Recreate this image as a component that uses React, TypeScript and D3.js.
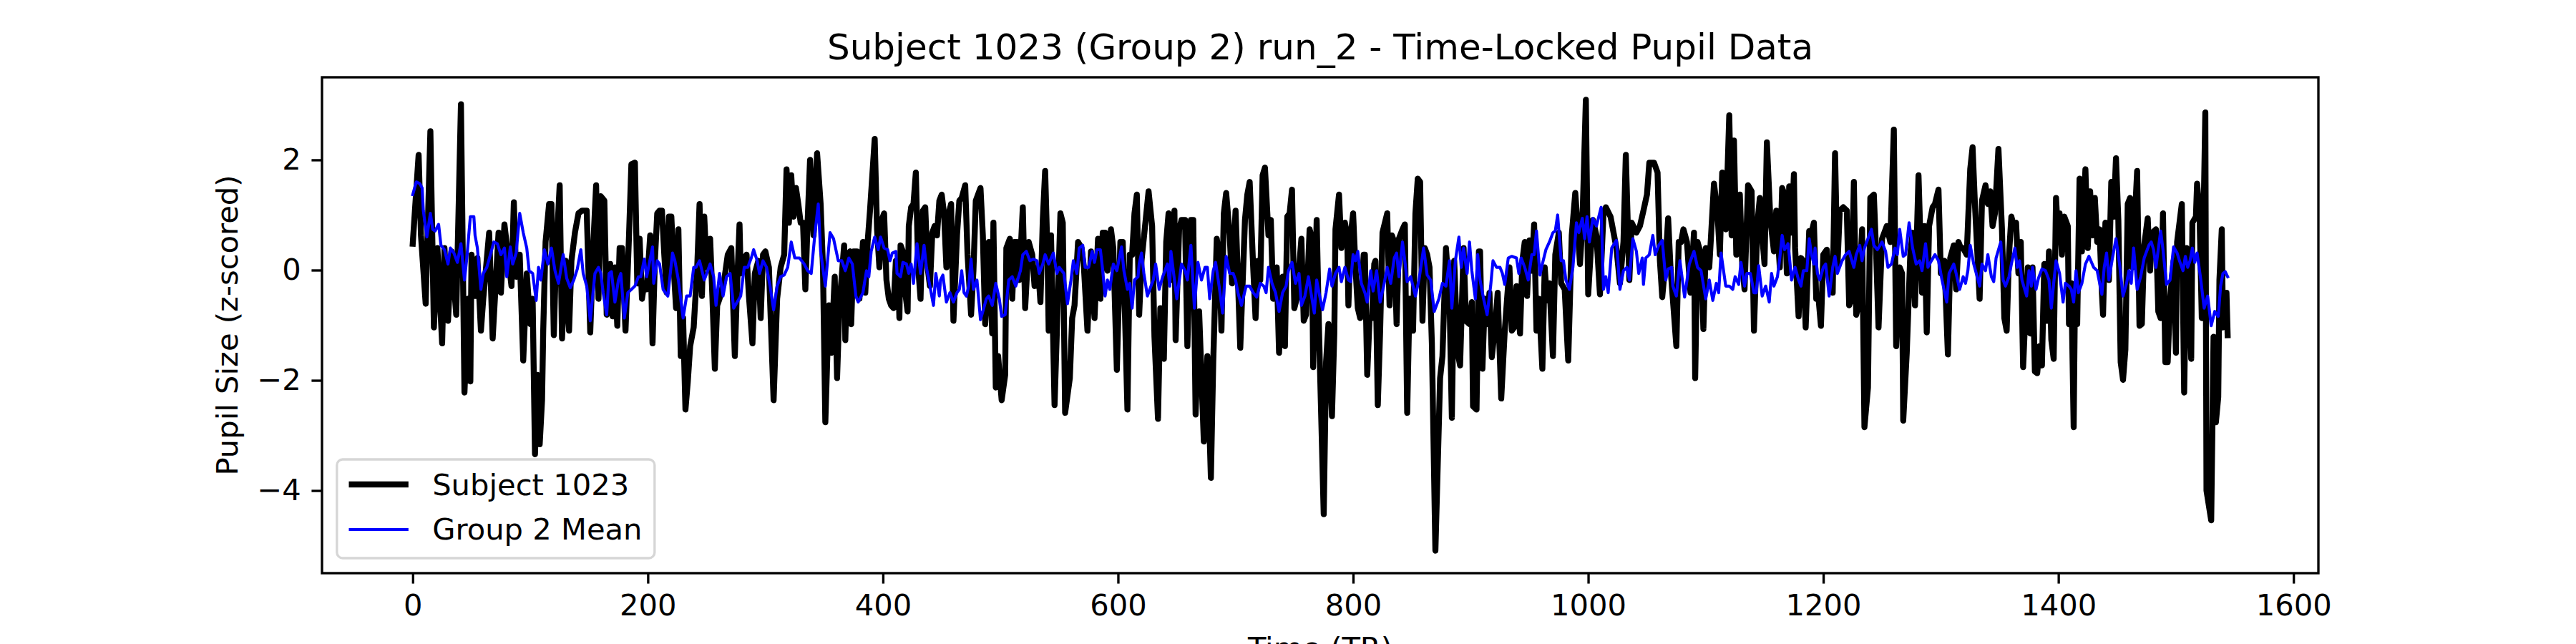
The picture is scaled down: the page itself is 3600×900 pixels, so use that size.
import { useEffect, useRef } from "react";
import * as d3 from "d3";

// [TR, z-score] pairs
const subjectPoints: [number, number][] = [
  [0, 0.48], [5, 2.09], [7, 0.63], [11, -0.61], [15, 2.52], [18, -1.04], [21, 0.4], [25, -1.33], [27, 0.4], [30, -0.92],
  [33, 0.34], [37, -0.81], [41, 3.01], [44, -2.22], [47, -0.52], [49, -2.02], [50, 0.28], [53, -0.47], [55, 0.22], [58, -1.1],
  [60, -0.52], [65, 0.68], [68, -1.24], [73, 0.68], [75, -0.41], [78, 0.83], [81, 0.28], [84, -0.29], [86, 1.23], [88, -0.12],
  [91, 0.28], [94, -1.64], [97, -0.06], [100, -0.98], [102, -0.52], [104, -3.34], [106, -1.9], [108, -3.16], [110, -2.36], [111, -1.1],
  [113, 0.51], [116, 1.2], [118, 1.2], [120, -1.18], [122, 0.28], [125, 1.54], [127, -1.24], [130, 0.17], [133, -1.1], [135, 0.17],
  [138, 0.68], [141, 1.03], [144, 1.08], [148, 1.08], [151, -1.13], [154, 0.63], [156, 1.54], [158, -0.52], [160, 1.34], [163, 1.26],
  [165, -0.81], [168, 0.11], [170, -0.84], [172, 0.05], [174, -1.01], [176, 0.4], [178, 0.4], [181, -1.1], [184, 0.63], [186, 1.92],
  [189, 1.95], [191, -0.24], [193, 0.57], [195, -0.52], [197, -0.24], [199, -0.35], [202, 0.63], [204, -1.33], [206, 0.17], [208, 1.03],
  [210, 1.08], [212, 1.08], [214, 0.28], [216, -0.41], [218, 0.97], [220, 0.97], [222, 0.05], [224, -0.69], [226, 0.74], [228, -1.56],
  [230, -0.87], [232, -2.53], [234, -2.02], [236, -1.38], [239, -1.04], [242, 0.05], [244, 1.2], [246, -0.47], [248, 0.97], [250, 0.05],
  [253, 0.57], [255, -0.52], [257, -1.79], [259, -0.64], [261, -0.52], [265, -0.18], [268, 0.28], [271, 0.4], [274, -1.56], [276, -0.24],
  [278, 0.83], [279, -0.06], [282, 0.22], [284, 0.28], [286, -0.47], [289, -1.33], [291, -0.06], [294, 0.17], [296, -0.87], [298, 0.28],
  [300, 0.34], [303, 0.05], [307, -2.36], [310, -0.52], [313, 0.05], [316, 0.28], [318, 1.83], [320, 0.86], [322, 1.72], [324, 0.97],
  [326, 1.49], [328, 1.2], [330, 0.86], [332, 0.86], [334, -0.35], [336, 0.91], [338, 2.0], [341, 0.63], [344, 2.12], [347, 1.2],
  [349, 0.05], [351, -2.76], [354, -0.64], [356, -1.5], [359, -0.12], [361, -1.96], [363, -0.64], [367, 0.45], [368, -1.27], [370, 0.28],
  [372, 0.34], [373, -0.98], [375, 0.34], [378, 0.34], [380, -0.52], [383, 0.51], [385, -0.41], [387, 0.51], [389, 1.08], [393, 2.38],
  [395, 0.74], [397, 0.05], [399, 0.91], [401, 1.03], [403, -0.18], [405, -0.52], [407, -0.64], [409, -0.69], [411, 0.17], [413, -0.06],
  [414, -0.87], [415, 0.45], [418, 0.28], [419, -0.41], [421, -0.75], [422, 0.8], [424, 1.14], [426, 1.2], [428, 1.77], [430, 0.05],
  [432, -0.52], [434, 1.08], [436, 1.14], [438, 0.05], [440, -0.29], [442, 0.68], [444, 0.8], [446, 0.63], [448, 1.26], [450, 1.37],
  [452, 1.03], [454, 0.05], [456, 1.03], [458, 1.2], [460, -0.92], [463, 0.63], [465, 1.26], [467, 1.31], [470, 1.54], [472, 0.28],
  [475, -0.81], [477, -0.01], [479, 1.26], [483, 1.49], [485, 0.63], [487, -0.98], [490, 0.51], [493, -1.15], [494, 0.86], [496, -2.13],
  [498, -1.56], [501, -2.36], [504, -1.9], [505, 0.4], [508, 0.57], [510, -0.52], [512, 0.51], [514, 0.51], [516, -0.18], [519, 1.14],
  [521, -0.69], [524, 0.51], [527, 0.28], [529, -0.29], [532, 0.05], [534, -0.58], [536, 0.91], [538, 1.8], [540, 0.28], [541, -1.1],
  [543, 0.63], [546, -2.45], [548, -1.1], [551, 1.03], [553, 0.86], [555, -2.59], [559, -1.96], [561, -0.87], [563, -0.64], [566, 0.51],
  [569, 0.4], [571, 0.05], [574, -1.1], [577, 0.34], [578, -0.18], [580, -0.87], [583, 0.57], [585, -0.52], [587, 0.68], [589, 0.68],
  [591, -0.01], [594, 0.74], [596, 0.4], [599, -1.81], [602, 0.51], [604, 0.51], [606, -0.87], [608, -2.53], [610, 0.28], [612, 0.28],
  [614, 1.03], [616, 1.37], [618, -0.81], [620, 0.17], [623, 0.8], [626, 1.43], [629, 0.8], [631, -1.21], [634, -2.7], [636, -0.69],
  [639, -1.61], [641, 0.51], [643, 1.03], [645, -0.18], [648, 1.08], [649, -1.27], [652, 0.74], [654, 0.91], [657, 0.91], [659, -1.38],
  [662, 0.91], [664, 0.91], [666, -2.62], [669, -0.75], [673, -3.11], [676, -1.56], [679, -3.77], [681, -1.67], [684, 0.57], [686, 0.28],
  [688, -1.1], [690, 1.03], [692, 1.4], [695, 0.63], [697, -0.24], [700, 1.08], [704, -1.41], [708, 0.91], [710, 1.37], [712, 1.6],
  [715, 0.05], [717, -0.87], [719, 0.17], [721, -0.18], [723, 1.72], [725, 1.86], [728, 0.63], [730, 0.91], [732, -0.52], [735, 0.05],
  [737, -1.5], [740, -0.12], [742, -1.38], [744, 0.97], [746, 1.03], [748, 1.46], [750, -0.69], [752, -0.52], [756, 0.57], [758, -0.92],
  [760, -0.81], [763, 0.74], [765, 0.57], [766, -1.76], [769, 0.91], [771, -1.1], [775, -4.43], [777, -1.67], [779, -0.98], [782, -2.65],
  [784, -1.15], [785, 0.74], [788, 1.37], [790, 0.4], [793, 0.86], [795, 0.63], [796, -0.64], [798, 0.63], [800, 1.03], [802, 0.05],
  [804, -0.69], [806, -0.87], [809, 0.28], [810, 0.28], [812, -1.9], [814, -0.87], [816, -0.87], [818, 0.11], [819, 0.17], [821, -2.45],
  [823, -1.1], [825, 0.68], [829, 1.03], [831, -0.64], [833, 0.63], [835, 0.51], [837, -0.98], [839, 0.57], [842, 0.74], [844, 0.83],
  [846, -2.59], [848, -0.52], [851, -1.1], [853, 1.03], [855, 1.66], [857, 1.6], [859, -0.92], [861, 0.4], [863, 0.28], [865, 0.05],
  [867, -1.33], [870, -5.09], [874, -1.96], [876, -1.56], [879, 0.4], [882, -0.52], [884, -2.68], [886, 0.17], [889, -1.5], [891, -1.73],
  [894, 0.4], [896, -0.92], [899, -0.98], [901, -0.58], [902, -2.47], [905, -2.53], [907, 0.34], [908, 0.34], [910, -1.79], [912, -0.52],
  [914, -0.98], [916, -0.41], [918, -1.58], [921, -0.98], [923, -0.41], [926, -2.33], [929, -1.1], [931, -0.52], [933, 0.05], [935, -1.1],
  [937, -1.04], [939, -0.29], [942, -1.15], [944, 0.17], [946, 0.51], [948, -0.47], [950, 0.54], [952, -0.01], [954, 0.83], [956, -1.1],
  [958, -0.52], [961, -1.79], [963, 0.05], [965, -0.55], [967, -0.24], [970, -1.56], [972, 0.28], [975, 0.68], [977, -0.24], [980, -0.35],
  [983, -1.64], [986, 0.63], [989, 1.4], [991, 0.8], [993, 0.11], [995, 0.8], [998, 3.09], [1000, -0.44], [1002, 0.28], [1004, 0.91],
  [1007, 0.63], [1010, -0.44], [1013, 1.03], [1015, 1.14], [1019, 0.97], [1022, 0.63], [1024, 0.4], [1027, -0.24], [1030, 0.51], [1032, 2.09],
  [1035, -0.18], [1037, 0.86], [1041, 0.68], [1044, 0.8], [1047, 1.08], [1050, 1.37], [1052, 1.95], [1056, 1.95], [1059, 1.77], [1061, 0.17],
  [1063, -0.49], [1066, 0.22], [1068, 0.94], [1070, 0.05], [1072, -0.52], [1075, -1.38], [1077, 0.51], [1079, 0.51], [1081, 0.74], [1084, 0.51],
  [1087, -0.41], [1090, 0.68], [1091, -1.96], [1093, 0.51], [1096, 0.28], [1098, -1.07], [1100, 0.4], [1103, 0.05], [1107, 1.57], [1110, 1.03],
  [1112, 0.28], [1114, 1.77], [1117, 0.74], [1120, 2.81], [1122, 0.63], [1124, 2.35], [1126, 0.28], [1129, 1.37], [1131, 0.11], [1133, -0.35],
  [1136, 1.54], [1139, 1.43], [1141, -1.1], [1144, 0.86], [1146, 1.31], [1148, 0.63], [1150, 0.11], [1152, 2.32], [1155, 0.91], [1158, 0.34],
  [1160, 1.08], [1163, 0.05], [1165, 1.49], [1167, 1.37], [1169, -0.06], [1171, 1.52], [1173, 0.68], [1175, 1.74], [1176, 0.4], [1179, -0.84],
  [1181, 0.22], [1183, 0.17], [1185, -1.04], [1188, 0.71], [1190, 0.68], [1192, 0.86], [1194, -0.52], [1196, -0.52], [1198, -1.01], [1200, 0.28],
  [1203, 0.37], [1205, -0.18], [1208, -0.41], [1210, 2.12], [1212, 0.05], [1214, 1.08], [1217, 1.14], [1220, 1.08], [1222, -0.64], [1224, -0.52],
  [1226, 1.6], [1228, -0.81], [1230, -0.64], [1233, 0.74], [1235, -2.85], [1238, -2.13], [1240, 1.31], [1243, 1.37], [1245, 0.28], [1247, -1.04],
  [1250, 0.57], [1254, 0.8], [1257, 0.51], [1260, 2.55], [1262, -1.38], [1265, 0.05], [1267, -0.06], [1268, -2.73], [1271, -1.5], [1274, 0.28],
  [1276, 0.68], [1278, -0.64], [1281, 1.72], [1284, -0.41], [1286, 0.8], [1288, -1.13], [1290, 0.8], [1293, 1.14], [1295, 1.2], [1298, 1.46],
  [1300, -0.06], [1303, 0.17], [1306, -1.53], [1308, 0.22], [1311, 0.45], [1313, -0.35], [1315, 0.51], [1317, 0.4], [1319, 0.4], [1322, 0.28],
  [1325, 1.83], [1327, 2.23], [1329, 1.2], [1333, -0.52], [1335, 1.26], [1338, 1.54], [1340, 1.2], [1342, 1.43], [1344, 0.8], [1346, 1.03],
  [1349, 2.2], [1352, 0.74], [1354, -0.87], [1356, -1.1], [1358, 0.28], [1360, 0.97], [1362, 0.8], [1364, 0.86], [1366, -0.06], [1368, 0.51],
  [1370, -1.76], [1372, -0.75], [1374, 0.05], [1376, -1.15], [1378, 0.05], [1380, -1.84], [1382, -1.87], [1384, -1.38], [1386, -1.73], [1388, 0.11],
  [1390, -0.92], [1392, 0.34], [1394, -1.27], [1396, -1.61], [1398, 1.31], [1400, 0.51], [1401, 1.03], [1403, 0.28], [1405, 0.97], [1408, 0.8],
  [1409, -0.98], [1411, -0.24], [1413, -2.85], [1414, -0.69], [1416, -0.98], [1418, 1.66], [1420, 0.34], [1423, 1.83], [1425, 0.4], [1427, 1.43],
  [1429, 0.63], [1431, 1.31], [1433, 0.51], [1435, 0.74], [1437, -0.41], [1438, -0.81], [1440, 0.86], [1442, 0.28], [1443, -0.18], [1445, 1.6],
  [1447, 0.97], [1449, 2.03], [1451, 0.91], [1453, -1.67], [1455, -1.99], [1457, -1.44], [1459, 1.2], [1461, 1.31], [1463, 0.05], [1467, 1.8],
  [1469, -1.01], [1471, -0.98], [1473, 0.45], [1476, 0.94], [1478, -0.01], [1480, 0.68], [1483, 0.74], [1485, -0.75], [1487, -0.87], [1489, 1.03],
  [1491, -1.67], [1493, -1.67], [1495, -0.52], [1498, 0.17], [1500, -1.5], [1501, 0.51], [1505, 1.2], [1507, -2.22], [1509, 0.4], [1511, -0.24],
  [1513, -1.61], [1514, 0.86], [1517, 0.97], [1518, 1.57], [1520, 1.08], [1522, -0.87], [1523, 0.28], [1525, 2.86], [1526, -4.0], [1530, -4.54],
  [1532, -1.21], [1534, -2.76], [1536, -2.3], [1537, -0.18], [1539, 0.74], [1540, -1.04], [1542, -0.98], [1543, -0.41], [1544, -1.18],
];

const groupMeanPoints: [number, number][] = [
  [0, 1.37], [3, 1.6], [6, 1.57], [8, 1.49], [9, 1.08], [12, 0.6], [15, 1.03], [17, 0.74], [19, 0.71], [22, 0.83],
  [24, 0.45], [27, 0.37], [30, 0.11], [32, 0.4], [35, 0.31], [38, 0.14], [41, 0.48], [44, -0.18], [46, 0.22], [49, 0.97],
  [52, 0.97], [53, 0.63], [55, 0.4], [58, -0.35], [60, -0.06], [63, 0.05], [65, 0.2], [69, 0.51], [72, 0.48], [75, 0.28],
  [78, 0.4], [80, -0.12], [83, 0.42], [85, 0.11], [88, 0.31], [91, 1.03], [94, 0.68], [97, 0.4], [99, -0.01], [102, -0.06],
  [105, -0.55], [107, 0.05], [109, -0.18], [112, 0.37], [115, 0.11], [118, 0.4], [121, -0.01], [124, -0.24], [128, 0.28], [131, -0.15],
  [134, -0.32], [137, -0.18], [140, 0.02], [143, 0.37], [145, -0.06], [148, -0.29], [151, -0.92], [155, -0.06], [158, 0.05], [160, -0.06],
  [162, -0.41], [165, -0.81], [167, -0.06], [169, -0.03], [172, -0.58], [175, -0.18], [177, -0.06], [180, -0.87], [183, -0.41], [186, -0.35],
  [189, -0.29], [192, -0.12], [194, -0.12], [197, 0.2], [199, -0.12], [204, 0.42], [205, -0.24], [208, 0.17], [210, 0.11], [213, -0.35],
  [217, -0.47], [221, 0.31], [223, 0.17], [226, -0.18], [230, -0.87], [233, -0.47], [236, -0.47], [239, 0.05], [241, 0.05], [244, 0.17],
  [248, -0.18], [253, 0.11], [256, -0.12], [258, -0.64], [261, -0.06], [264, -0.47], [267, -0.12], [270, -0.06], [273, -0.69], [276, -0.58],
  [279, -0.47], [282, 0.05], [285, 0.05], [288, 0.22], [290, 0.37], [293, 0.17], [295, -0.06], [298, 0.17], [301, 0.05], [304, -0.29],
  [307, -0.72], [310, -0.29], [313, -0.12], [316, -0.09], [319, 0.05], [322, 0.51], [325, 0.22], [329, 0.22], [333, 0.11], [336, -0.01],
  [339, -0.06], [342, 0.63], [345, 1.2], [347, 0.34], [351, -0.29], [355, 0.68], [358, 0.57], [362, 0.17], [365, 0.17], [368, -0.01],
  [371, 0.22], [374, 0.11], [377, -0.47], [379, -0.58], [383, -0.41], [386, -0.01], [388, -0.12], [390, 0.34], [393, 0.6], [396, 0.37],
  [398, 0.6], [401, 0.4], [404, 0.37], [406, 0.17], [408, 0.31], [411, 0.34], [412, -0.06], [415, -0.12], [417, 0.14], [420, 0.11],
  [422, -0.06], [424, 0.11], [426, -0.24], [429, 0.48], [432, -0.06], [435, 0.45], [437, 0.05], [440, -0.29], [443, -0.64], [445, -0.06],
  [448, -0.47], [449, -0.18], [451, -0.09], [454, -0.58], [457, -0.41], [460, -0.58], [463, -0.41], [465, -0.35], [467, -0.01], [469, -0.41],
  [471, -0.47], [473, -0.29], [475, 0.2], [477, -0.35], [480, -0.18], [483, -0.9], [485, -0.75], [488, -0.52], [490, -0.47], [493, -0.64],
  [496, -0.24], [499, -0.52], [501, -0.84], [504, -0.81], [507, -0.18], [510, -0.12], [513, -0.29], [517, -0.01], [519, 0.28], [522, 0.34],
  [525, 0.17], [528, 0.2], [531, 0.17], [533, -0.06], [536, 0.11], [538, 0.28], [541, 0.11], [545, 0.31], [548, -0.06], [550, 0.05],
  [554, -0.06], [557, -0.61], [560, -0.18], [562, 0.17], [565, -0.06], [567, 0.4], [570, 0.45], [572, 0.05], [575, 0.05], [578, 0.34],
  [580, 0.14], [582, 0.37], [585, 0.37], [587, -0.01], [589, -0.47], [591, -0.18], [593, -0.35], [596, 0.11], [599, -0.01], [603, 0.42],
  [605, -0.01], [608, -0.35], [610, -0.24], [612, -0.69], [614, -0.18], [617, -0.12], [618, 0.11], [620, 0.31], [622, -0.06], [625, -0.47],
  [627, -0.35], [630, -0.18], [632, 0.11], [635, -0.35], [638, -0.12], [642, 0.11], [644, -0.29], [645, 0.34], [648, -0.18], [650, -0.52],
  [654, 0.11], [657, -0.01], [659, -0.18], [662, 0.45], [665, -0.69], [668, 0.14], [671, -0.18], [674, 0.05], [676, 0.05], [678, -0.52],
  [681, -0.01], [683, 0.14], [686, -0.29], [689, -0.78], [692, 0.25], [695, -0.06], [698, -0.06], [700, -0.18], [702, -0.41], [705, -0.64],
  [709, -0.29], [712, -0.29], [715, -0.41], [718, -0.49], [721, -0.24], [724, -0.29], [726, -0.41], [728, 0.05], [731, -0.24], [734, -0.41],
  [737, -0.75], [740, -0.41], [743, -0.29], [745, -0.01], [748, 0.14], [751, -0.24], [754, -0.06], [756, -0.64], [759, -0.47], [762, -0.12],
  [765, -0.52], [767, -0.78], [769, -0.18], [771, -0.41], [774, -0.72], [777, -0.41], [780, 0.02], [782, -0.29], [785, -0.06], [788, 0.05],
  [790, -0.21], [793, 0.05], [796, -0.18], [798, -0.21], [800, 0.28], [802, 0.17], [804, 0.34], [807, -0.24], [810, -0.41], [812, -0.58],
  [815, -0.01], [817, -0.38], [820, -0.01], [823, -0.58], [826, -0.29], [829, 0.05], [832, -0.24], [835, 0.22], [837, 0.31], [839, -0.12],
  [842, 0.51], [844, 0.17], [846, -0.21], [849, -0.12], [853, -0.47], [856, -0.18], [860, 0.4], [863, -0.09], [866, -0.18], [869, -0.75],
  [873, -0.52], [876, -0.24], [879, -0.29], [882, 0.17], [884, -0.69], [887, 0.17], [890, 0.6], [892, 0.05], [894, 0.4], [897, -0.06],
  [899, 0.51], [901, -0.01], [904, -0.52], [906, 0.28], [908, -0.18], [911, -0.52], [914, -0.81], [917, -0.29], [919, 0.17], [922, 0.05],
  [925, 0.05], [927, -0.06], [929, -0.26], [932, 0.22], [935, 0.25], [939, 0.22], [941, -0.06], [943, 0.22], [946, 0.05], [949, -0.18],
  [952, 0.28], [954, 0.28], [956, 0.71], [959, -0.09], [961, 0.11], [964, 0.37], [967, 0.51], [970, 0.68], [972, 0.71], [974, 1.0],
  [977, 0.17], [979, 0.17], [981, -0.18], [984, -0.35], [987, 0.05], [990, 0.86], [992, 0.68], [995, 0.94], [997, 0.57], [999, 0.97],
  [1001, 0.51], [1004, 0.94], [1007, 0.8], [1011, 1.14], [1013, -0.35], [1015, -0.12], [1017, -0.41], [1020, 0.4], [1024, 0.54], [1027, -0.35],
  [1030, -0.01], [1033, 0.05], [1035, -0.18], [1038, 0.57], [1041, 0.34], [1043, -0.06], [1046, 0.22], [1047, -0.26], [1049, 0.22], [1052, 0.28],
  [1055, 0.63], [1057, 0.28], [1060, 0.45], [1063, 0.54], [1066, -0.18], [1068, 0.02], [1071, 0.05], [1072, -0.29], [1075, -0.47], [1078, 0.17],
  [1082, -0.49], [1086, 0.11], [1090, 0.34], [1093, 0.05], [1096, -0.01], [1100, -0.52], [1103, -0.18], [1106, -0.55], [1109, -0.24], [1111, -0.41],
  [1113, 0.31], [1117, -0.29], [1120, -0.29], [1123, -0.35], [1125, -0.12], [1128, -0.26], [1130, 0.14], [1133, -0.29], [1135, -0.06], [1138, -0.06],
  [1141, -0.41], [1143, -0.41], [1145, 0.08], [1148, -0.47], [1151, -0.29], [1154, -0.58], [1156, -0.06], [1158, -0.29], [1161, -0.12], [1163, 0.22],
  [1165, 0.63], [1167, 0.37], [1170, 0.48], [1171, 0.28], [1173, -0.18], [1176, 0.05], [1179, -0.18], [1181, -0.29], [1183, -0.01], [1186, -0.01],
  [1188, 0.57], [1190, 0.28], [1192, 0.11], [1193, 0.4], [1195, -0.06], [1197, -0.18], [1200, 0.05], [1202, 0.11], [1205, -0.47], [1208, 0.05],
  [1210, 0.25], [1212, -0.06], [1216, 0.17], [1219, 0.28], [1222, 0.34], [1226, 0.05], [1228, 0.28], [1231, 0.45], [1233, 0.17], [1235, 0.4],
  [1238, 0.57], [1241, 0.74], [1243, 0.45], [1246, 0.37], [1250, 0.51], [1253, 0.34], [1255, 0.05], [1258, 0.11], [1261, 0.4], [1263, 0.28],
  [1265, 0.74], [1268, 0.25], [1270, 0.28], [1273, 0.86], [1276, 0.4], [1279, 0.11], [1282, 0.17], [1284, -0.01], [1287, 0.48], [1289, 0.05],
  [1292, 0.17], [1295, 0.28], [1298, 0.17], [1301, -0.18], [1305, -0.58], [1307, -0.06], [1311, 0.11], [1313, -0.06], [1316, -0.35], [1319, -0.12],
  [1321, -0.24], [1323, -0.01], [1325, 0.45], [1328, 0.11], [1333, -0.29], [1335, 0.11], [1338, -0.01], [1340, 0.28], [1343, -0.12], [1345, -0.21],
  [1347, 0.22], [1351, 0.51], [1353, -0.18], [1355, -0.29], [1358, -0.12], [1360, 0.11], [1363, 0.4], [1365, 0.05], [1367, 0.17], [1369, -0.18],
  [1373, -0.47], [1375, -0.01], [1377, -0.29], [1378, 0.05], [1381, -0.35], [1383, -0.15], [1386, 0.02], [1389, -0.01], [1392, -0.18], [1394, -0.69],
  [1396, -0.24], [1398, 0.17], [1401, -0.06], [1404, -0.58], [1406, -0.24], [1409, -0.29], [1411, -0.35], [1413, -0.58], [1415, -0.01], [1417, -0.41],
  [1420, -0.24], [1423, 0.11], [1426, 0.25], [1430, 0.05], [1433, -0.01], [1437, -0.44], [1439, 0.05], [1441, 0.31], [1443, -0.18], [1446, 0.22],
  [1449, 0.57], [1452, 0.11], [1455, -0.47], [1458, -0.24], [1460, -0.01], [1462, -0.24], [1464, 0.4], [1467, -0.35], [1470, -0.12], [1473, 0.22],
  [1477, 0.45], [1479, 0.51], [1481, 0.37], [1483, 0.05], [1487, 0.71], [1489, 0.37], [1492, -0.26], [1495, -0.18], [1498, 0.42], [1501, 0.31],
  [1503, 0.17], [1506, -0.01], [1508, 0.25], [1510, 0.05], [1512, 0.17], [1514, 0.4], [1516, 0.14], [1518, 0.31], [1521, -0.15], [1524, -0.69],
  [1527, -0.47], [1530, -1.01], [1533, -0.75], [1536, -0.84], [1538, -0.29], [1540, -0.06], [1542, -0.03], [1544, -0.12],
];

const xTicks = [0, 200, 400, 600, 800, 1000, 1200, 1400, 1600];
const yTicks = [-4, -2, 0, 2];

const TITLE = "Subject 1023 (Group 2) run_2 - Time-Locked Pupil Data";
const X_LABEL = "Time (TR)";
const Y_LABEL = "Pupil Size (z-scored)";
const LEGEND = ["Subject 1023", "Group 2 Mean"];

const FONT = "'DejaVu Sans', sans-serif";
const PT = 300 / 72; // figure is 12x3 in at 300 dpi

const App = () => {
  const svgRef = useRef<SVGSVGElement | null>(null);

  useEffect(() => {
    document.body.style.margin = "0";
    if (!svgRef.current) return;

    const width = 3600;
    const height = 900;
    const left = 450;
    const right = 3240;
    const top = 108;
    const bottom = 801;

    const svg = d3.select(svgRef.current);
    svg.selectAll("*").remove();

    svg.append("rect").attr("width", width).attr("height", height).attr("fill", "#ffffff");

    // matplotlib-style 5% autoscale margins
    const all = [...subjectPoints, ...groupMeanPoints];
    const [x0, x1] = d3.extent(all, (d) => d[0]) as [number, number];
    const [y0, y1] = d3.extent(all, (d) => d[1]) as [number, number];
    const xPad = (x1 - x0) * 0.05;
    const yPad = (y1 - y0) * 0.05;

    const x = d3.scaleLinear().domain([x0 - xPad, x1 + xPad]).range([left, right]);
    const y = d3.scaleLinear().domain([y0 - yPad, y1 + yPad]).range([bottom, top]);

    const line = d3
      .line<[number, number]>()
      .x((d) => x(d[0]))
      .y((d) => y(d[1]));

    svg
      .append("path")
      .datum(subjectPoints)
      .attr("fill", "none")
      .attr("stroke", "#000000")
      .attr("stroke-width", 2 * PT)
      .attr("stroke-linejoin", "round")
      .attr("stroke-linecap", "square")
      .attr("d", line);

    svg
      .append("path")
      .datum(groupMeanPoints)
      .attr("fill", "none")
      .attr("stroke", "#0000ff")
      .attr("stroke-width", 1 * PT)
      .attr("stroke-linejoin", "round")
      .attr("stroke-linecap", "square")
      .attr("d", line);

    const tickLen = 3.5 * PT;
    const fontSize = 10 * PT;
    const minus = (v: number) => (v < 0 ? `\u2212${Math.abs(v)}` : `${v}`);

    const styleAxis = (g: d3.Selection<SVGGElement, unknown, null, undefined>) => {
      g.select(".domain").remove();
      g.selectAll("line").attr("stroke", "#000000").attr("stroke-width", 0.8 * PT);
      g.selectAll("text")
        .attr("fill", "#000000")
        .attr("font-family", FONT)
        .attr("font-size", fontSize);
    };

    svg
      .append("g")
      .attr("transform", `translate(0, ${bottom})`)
      .call(
        d3.axisBottom(x).tickValues(xTicks).tickSize(tickLen).tickPadding(tickLen).tickFormat((d) => `${d}`)
      )
      .call(styleAxis);

    svg
      .append("g")
      .attr("transform", `translate(${left}, 0)`)
      .call(
        d3
          .axisLeft(y)
          .tickValues(yTicks)
          .tickSize(tickLen)
          .tickPadding(tickLen)
          .tickFormat((d) => minus(d as number))
      )
      .call(styleAxis);

    // axes frame
    svg
      .append("rect")
      .attr("x", left)
      .attr("y", top)
      .attr("width", right - left)
      .attr("height", bottom - top)
      .attr("fill", "none")
      .attr("stroke", "#000000")
      .attr("stroke-width", 0.8 * PT);

    svg
      .append("text")
      .attr("x", (left + right) / 2)
      .attr("y", top - 6 * PT)
      .attr("text-anchor", "middle")
      .attr("font-family", FONT)
      .attr("font-size", 12 * PT)
      .attr("fill", "#000000")
      .text(TITLE);

    svg
      .append("text")
      .attr("x", (left + right) / 2)
      .attr("y", 920)
      .attr("text-anchor", "middle")
      .attr("font-family", FONT)
      .attr("font-size", fontSize)
      .attr("fill", "#000000")
      .text(X_LABEL);

    svg
      .append("text")
      .attr("transform", `translate(332, ${(top + bottom) / 2}) rotate(-90)`)
      .attr("text-anchor", "middle")
      .attr("font-family", FONT)
      .attr("font-size", fontSize)
      .attr("fill", "#000000")
      .text(Y_LABEL);

    // legend, lower left
    const legend = svg.append("g").attr("transform", `translate(${left + 0.5 * fontSize}, 0)`);
    legend
      .append("rect")
      .attr("x", 0)
      .attr("y", 642)
      .attr("width", 444)
      .attr("height", 138)
      .attr("rx", 8)
      .attr("fill", "#ffffff")
      .attr("fill-opacity", 0.8)
      .attr("stroke", "#cccccc")
      .attr("stroke-opacity", 0.8)
      .attr("stroke-width", 0.8 * PT);

    const entries = [
      { label: LEGEND[0], color: "#000000", width: 2 * PT, lineY: 677, textY: 692 },
      { label: LEGEND[1], color: "#0000ff", width: 1 * PT, lineY: 740, textY: 754 },
    ];
    entries.forEach((e) => {
      legend
        .append("line")
        .attr("x1", 0.4 * fontSize)
        .attr("x2", 2.4 * fontSize)
        .attr("y1", e.lineY)
        .attr("y2", e.lineY)
        .attr("stroke", e.color)
        .attr("stroke-width", e.width)
        .attr("stroke-linecap", "butt");
      legend
        .append("text")
        .attr("x", 3.2 * fontSize)
        .attr("y", e.textY)
        .attr("font-family", FONT)
        .attr("font-size", fontSize)
        .attr("fill", "#000000")
        .text(e.label);
    });
  }, []);

  return (
    <div style={{ position: "absolute", left: 0, top: 0 }}>
      <svg ref={svgRef} width={3600} height={900} style={{ display: "block" }} />
    </div>
  );
};

export default App;
